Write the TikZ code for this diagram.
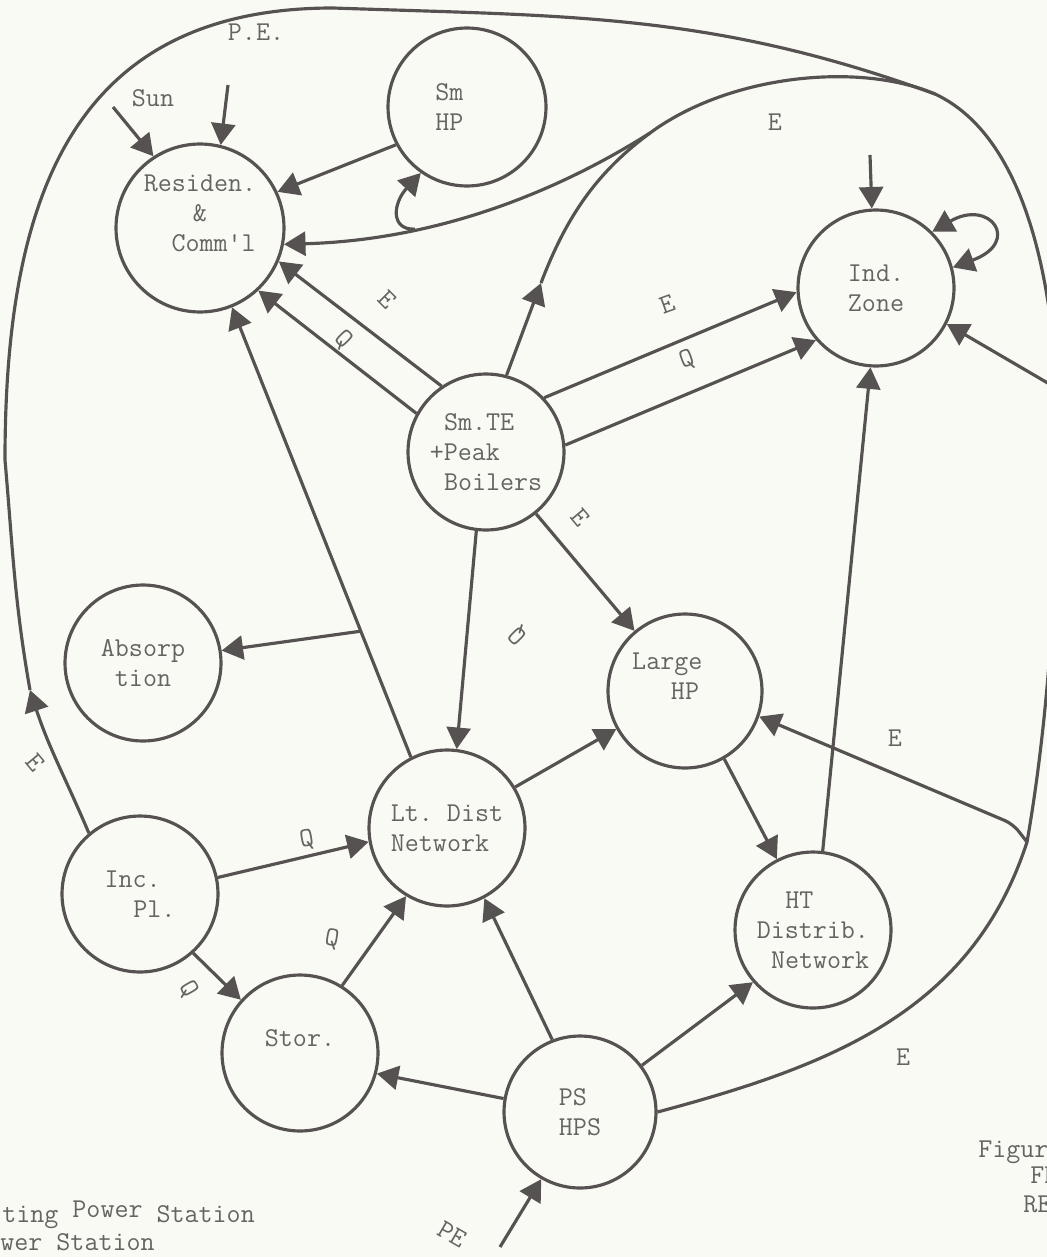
\documentclass[tikz,border=0pt]{standalone}
\usepackage{xcolor}
\usepackage{tikz}
\usetikzlibrary{arrows.meta,positioning}

\definecolor{ink}{RGB}{86,82,82}
\definecolor{typed}{RGB}{100,100,98}
\definecolor{paper}{RGB}{250,250,245}
\newcommand{\twsp}{\hspace*{0.525em}}

\begin{document}
\begin{tikzpicture}[x=0.02cm, y=0.02cm,
    plant/.style={circle, draw=ink, line width=1.8pt, minimum size=3.12cm, inner sep=0pt, align=center, text=typed, font=\ttfamily\fontsize{15.5}{17}\selectfont},
    flow/.style={draw=ink, line width=1.8pt},
    arrow/.style={->, >={Triangle[length=0.43cm, width=0.48cm]}, flow},
    lbl/.style={text=typed, inner sep=0pt, font=\ttfamily\fontsize{15.5}{17}\selectfont}
]
    % Page
    \useasboundingbox (0,0) rectangle (1047,-1257);
    \fill[paper] (0,0) rectangle (1047,-1257);
    \clip (0,0) rectangle (1047,-1257);

    % Consumers
    \node[plant, minimum size=3.36cm] (res) at (200,-228) {Residen.\\\&\hspace*{1.3em}\\\hspace*{1em}Comm'l\\\mbox{}};
    \node[plant, minimum size=3.16cm] (smhp) at (467,-107) {Sm\hspace*{1.3em}\\HP\hspace*{1.3em}};
    \node[plant] (ind) at (876,-288) {Ind.\\Zone};
    \node[plant] (abs) at (143,-663) {Absorp\\tion};
    \node[plant, minimum size=3.08cm] (lhp) at (685,-691) {Large\hspace*{1.3em}\\HP\hspace*{1.3em}\\\mbox{}};

    % Sources and networks
    \node[plant, align=left] (smte) at (486,-452) {\twsp Sm.TE\\+Peak\\\twsp Boilers};
    \node[plant, align=left] (ltd) at (447,-828) {Lt.\ Dist\\Network};
    \node[plant, align=left] (inc) at (140,-894) {Inc.\\\twsp\twsp Pl.};
    \node[plant, align=left] (ht) at (813,-930) {\twsp\twsp HT\\Distrib.\\\twsp Network};
    \node[plant] (stor) at (300,-1053) {Stor.\\\mbox{}};
    \node[plant, align=left, minimum size=3.04cm] (ps) at (580,-1112) {PS\\HPS};

    % Free ends and junctions
    \coordinate (sun) at (113,-107);
    \coordinate (peTop) at (228,-85);
    \coordinate (indTop) at (870,-155);
    \coordinate (peBot) at (500,-1247);
    \coordinate (eInc) at (30,-690);
    \coordinate (busW) at (5,-460);
    \coordinate (busN) at (333,-8);
    \coordinate (jtop) at (935,-94);
    \coordinate (busE) at (1058,-440);
    \coordinate (jind) at (1058,-389);
    \coordinate (jlhp) at (1027,-842);
    \coordinate (kLhp) at (1013,-824);
    \coordinate (jsm) at (650,-133);
    \coordinate (eSm) at (541,-283);

    % Outside inputs
    \draw[arrow] (sun) -- (res.123);
    \draw[arrow] (peTop) -- (res.76);
    \draw[arrow] (indTop) -- (ind.93);
    \draw[arrow] (peBot) -- (ps.240);
    \node[lbl] (lblSun) at (153,-98) {Sun};
    \node[lbl] (lblPe) at (256,-32) {P.E.};
    \node[lbl, rotate=-30] (lblPeBot) at (452,-1234) {PE};

    % Electricity bus
    \draw[arrow] (inc.130) to[out=113, in=288] (eInc);
    \draw[flow] (eInc) to[out=100, in=275] (busW)
        to[out=90, in=180, looseness=1.2] (busN)
        to[out=-2, in=160] (jtop)
        to[out=-25, in=90, looseness=0.8] (busE)
        to[out=270, in=80, looseness=0.8] (jlhp)
        to[out=252, in=15] (ps.east);
    \draw[arrow] (jtop) .. controls (860,-62) and (730,-74) .. (jsm)
        .. controls (560,-190) and (440,-240) .. coordinate[pos=0.7] (jres) (res.349);
    \draw[arrow] (jres) .. controls (390,-230) and (393,-203) .. (smhp.235);
    \draw[arrow] (smte.75) -- (eSm);
    \draw[flow] (eSm) .. controls (568,-212) and (600,-170) .. (jsm);
    \draw[arrow] (jind) -- (ind.333);
    \draw[arrow, rounded corners=5pt] (jlhp) -- (kLhp) -- (lhp.341);
    \draw[arrow, <->] (ind.45) .. controls (990,-198) and (1022,-242) .. (ind.15);

    % Heat and power links
    \draw[arrow] (smhp.208) -- (res.25);
    \draw[arrow] (smte.124) -- (res.337);
    \draw[arrow] (smte.151) -- (res.313);
    \draw[arrow] (smte.43) -- (ind.183);
    \draw[arrow] (smte.5) -- (ind.221);
    \draw[arrow] (smte.263) -- (ltd.83);
    \draw[arrow] (smte.309) -- (lhp.130);
    \draw[arrow] (ltd.117) -- coordinate[pos=0.28] (jabs) (res.292);
    \draw[arrow] (jabs) -- (abs.9);
    \draw[arrow] (inc.12) -- (ltd.190);
    \draw[arrow] (inc.312) -- (stor.138);
    \draw[arrow] (stor.58) -- (ltd.239);
    \draw[arrow] (ltd.31) -- (lhp.209);
    \draw[arrow] (lhp.300) -- (ht.117);
    \draw[arrow] (ht.83) -- (ind.266);
    \draw[arrow] (ps.170) -- (stor.345);
    \draw[arrow] (ps.111) -- (ltd.298);
    \draw[arrow] (ps.37) -- (ht.221);

    % Flow letters
    \node[lbl] (lE1) at (775,-122) {E};
    \node[lbl, rotate=20] (lE2) at (667,-304) {E};
    \node[lbl, rotate=20] (lQ2) at (687,-360) {Q};
    \node[lbl, rotate=-45] (lE3) at (387,-300) {E};
    \node[lbl, rotate=-45] (lQ3) at (343,-340) {Q};
    \node[lbl, rotate=-50] (lE4) at (580,-518) {E};
    \node[lbl, rotate=135] (lQ4) at (518,-635) {Q};
    \node[lbl, rotate=-50] (lE5) at (35,-763) {E};
    \node[lbl, rotate=10] (lQ5) at (307,-840) {Q};
    \node[lbl, rotate=-10] (lQ6) at (332,-939) {Q};
    \node[lbl, rotate=-60] (lQ7) at (188,-989) {Q};
    \node[lbl] (lE6) at (895,-738) {E};
    \node[lbl] (lE7) at (903,-1057) {E};

    % Cut-off captions
    \node[lbl, anchor=base west] (capA) at (2,-1222) {ting \raisebox{2.5pt}{Power} Station};
    \node[lbl, anchor=base west] (capB) at (0,-1250) {wer Station};
    \node[lbl, anchor=base west] (capC) at (978,-1157) {Figur};
    \node[lbl, anchor=base west] (capD) at (1030,-1183) {FR};
    \node[lbl, anchor=base west] (capE) at (1023,-1212) {RE};
\end{tikzpicture}
\end{document}
